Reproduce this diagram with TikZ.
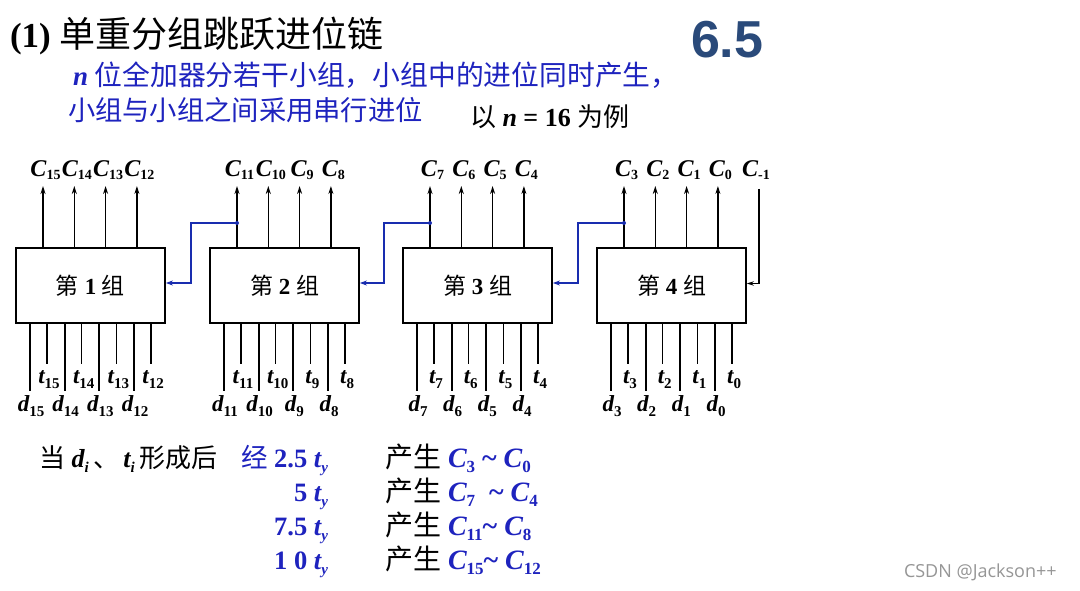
\documentclass[tikz,border=0pt]{standalone}
\usepackage{fontspec}
\setmainfont{Liberation Serif}
\setsansfont{Liberation Sans}
\newfontfamily\cjk{Noto Sans CJK SC}
\newfontfamily\wmfont{Open Sans}
\usetikzlibrary{arrows.meta}
\definecolor{zblue}{RGB}{30,35,190}
\definecolor{cblue}{RGB}{25,45,175}
\definecolor{numblue}{RGB}{42,74,122}
\definecolor{wmgray}{RGB}{150,150,150}
% variable with subscript: base, subscript, drop, subscript size
\newcommand\sv[4]{{\bfseries\itshape #1}\raisebox{#3}{\fontsize{#4}{#4}\selectfont\bfseries #2}}
\newcommand\Cl[1]{\sv{C}{#1}{-3pt}{14}}
\newcommand\Cb[1]{\sv{C}{#1}{-5pt}{17}}
\newcommand\Dl[2]{\sv{#1}{#2}{-5pt}{15}}
\tikzset{
  txt/.style={inner sep=0pt, outer sep=0pt},
  gbox/.style={draw, line width=1.8pt, minimum width=149pt, minimum height=75pt,
    inner sep=0pt, font=\fontsize{23}{25}\selectfont},
  outarr/.style={line width=1.6pt, -{Stealth[length=8pt,width=5pt]}},
  dline/.style={line width=2pt},
  tline/.style={line width=1.5pt},
  carry/.style={draw=cblue, line width=1.7pt, -{Stealth[length=7pt,width=5pt]}},
  inarr/.style={line width=1.4pt, -{Stealth[length=7pt,width=4.5pt]}},
  clab/.style={txt, anchor=base, font=\fontsize{24}{26}\selectfont},
  dlab/.style={txt, anchor=base, font=\fontsize{23}{25}\selectfont},
}
\begin{document}
\begin{tikzpicture}[x=1pt,y=-1pt]
\useasboundingbox (0,0) rectangle (1080,591);
\fill[white] (0,0) rectangle (1080,591);

% heading
\node[txt, anchor=base west] (title) at (10,48)
  {\fontsize{35}{37}\selectfont\textbf{(1)} {\fontsize{36}{38}\selectfont\cjk 单重分组跳跃进位链}};
\node[txt, anchor=base west, text=zblue] (line2) at (73,86)
  {\fontsize{27}{29}\selectfont\textbf{\textit{n}} {\fontsize{27.8}{29}\selectfont\cjk 位全加器分若干小组，小组中的进位同时产生，}};
\node[txt, anchor=base west, text=zblue] (line3) at (68,121)
  {\fontsize{27.3}{29}\selectfont{\cjk 小组与小组之间采用串行进位}};
\node[txt, anchor=base west] (example) at (470,127)
  {\fontsize{26}{28}\selectfont{\cjk 以} \textbf{\textit{n}} \textbf{= 16} {\cjk 为例}};
\node[txt, anchor=base west, text=numblue, font=\sffamily\bfseries\fontsize{52}{52}\selectfont] (secno) at (691,58) {6.5};

% group boxes
\node[gbox] (g1) at (90.5,285.5) {{\cjk 第} \textbf{1} {\cjk 组}};
\node[gbox] (g2) at (284.5,285.5) {{\cjk 第} \textbf{2} {\cjk 组}};
\node[gbox] (g3) at (477.5,285.5) {{\cjk 第} \textbf{3} {\cjk 组}};
\node[gbox] (g4) at (671.5,285.5) {{\cjk 第} \textbf{4} {\cjk 组}};

% carry outputs and data inputs
\foreach \g/\L in {1/16,2/210,3/403,4/597} {
  \foreach \k in {0,1,2,3} {
    \pgfmathtruncatemacro{\n}{15-4*(\g-1)-\k}
    \pgfmathsetmacro{\xc}{\L+27+31.3*\k}
    \pgfmathsetmacro{\xd}{\L+14+34.7*\k}
    \pgfmathsetmacro{\xt}{\L+31+34.7*\k}
    \coordinate (cb\n) at (\xc,248);
    \coordinate (ct\n) at (\xc,186);
    \node[clab] (lc\n) at (\xc+2.5,177) {\Cl{\n}};
    \draw[outarr] (cb\n) -- (ct\n);
    \coordinate (db\n) at (\xd,323);
    \coordinate (de\n) at (\xd,391);
    \coordinate (tb\n) at (\xt,323);
    \coordinate (te\n) at (\xt,364);
    \draw[dline] (db\n) -- (de\n);
    \draw[tline] (tb\n) -- (te\n);
    \node[dlab] (ld\n) at (\xd+1,411) {\Dl{d}{\n}};
    \node[dlab] (lt\n) at (\xt+2,383) {\Dl{t}{\n}};
  }
}

% group-to-group carries
\foreach \g/\p/\n/\L in {2/1/11/210,3/2/7/403,4/3/3/597} {
  \path (cb\n) ++(0,-25) coordinate (j\g);
  \coordinate (k\g) at (\L-19,223);
  \draw[carry] (j\g) -- (k\g) |- ([yshift=2.5pt]g\p.east);
  \fill[cblue] (j\g) circle (2pt);
}

% external carry C_{-1}
\node[clab] (lcm) at (756,177) {\Cl{-1}};
\coordinate (cm) at (759,189);
\draw[inarr] (cm) |- ([yshift=2pt]g4.east);

% timing summary
\node[txt, anchor=base west, font=\fontsize{26}{28}\selectfont] (when) at (39,467)
  {{\cjk 当} \Dl{d}{\itshape i}\,{\cjk 、}\,\Dl{t}{\itshape i}\,{\cjk 形成后}};
\node[txt, anchor=base east, text=zblue, font=\fontsize{26.5}{28}\selectfont] (r1) at (328,467)
  {{\cjk 经} \textbf{2.5} \Dl{t}{\itshape y}};
\node[txt, anchor=base east, text=zblue, font=\fontsize{26.5}{28}\selectfont] (r2) at (328,501)
  {\textbf{5} \Dl{t}{\itshape y}};
\node[txt, anchor=base east, text=zblue, font=\fontsize{26.5}{28}\selectfont] (r3) at (328,535)
  {\textbf{7.5} \Dl{t}{\itshape y}};
\node[txt, anchor=base east, text=zblue, font=\fontsize{26.5}{28}\selectfont] (r4) at (328,569)
  {\textbf{1 0} \Dl{t}{\itshape y}};

\node[txt, anchor=base west, font=\fontsize{28}{30}\selectfont] (p1) at (385,467)
  {{\cjk 产生} {\color{zblue}\Cb{3} \textbf{\textasciitilde} \Cb{0}}};
\node[txt, anchor=base west, font=\fontsize{28}{30}\selectfont] (p2) at (385,501)
  {{\cjk 产生} {\color{zblue}\Cb{7}\ \ \textbf{\textasciitilde} \Cb{4}}};
\node[txt, anchor=base west, font=\fontsize{28}{30}\selectfont] (p3) at (385,535)
  {{\cjk 产生} {\color{zblue}\Cb{11}\textbf{\textasciitilde} \Cb{8}}};
\node[txt, anchor=base west, font=\fontsize{28}{30}\selectfont] (p4) at (385,569)
  {{\cjk 产生} {\color{zblue}\Cb{15}\textbf{\textasciitilde} \Cb{12}}};

% watermark
\node[txt, anchor=base west, text=wmgray, font=\wmfont\fontsize{18}{18}\selectfont] (wm) at (904,577) {CSDN @Jackson++};
\end{tikzpicture}
\end{document}
